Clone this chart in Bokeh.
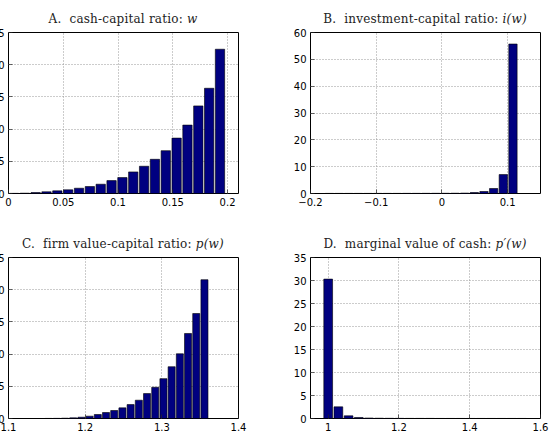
from bokeh.plotting import figure
from bokeh.layouts import row, column
from bokeh.models import FixedTicker, Range1d, Div
from bokeh.embed import file_html
from bokeh.resources import INLINE

# ---- Panel A: cash-capital ratio w (density histogram) ----
a_centers = [0.0050, 0.0149, 0.0248, 0.0347, 0.0446, 0.0545, 0.0644, 0.0743, 0.0842, 0.0941,
             0.1040, 0.1139, 0.1238, 0.1337, 0.1436, 0.1535, 0.1634, 0.1733, 0.1832, 0.1931]
a_density = [0.02, 0.05, 0.15, 0.26, 0.41, 0.57, 0.82, 1.08, 1.44, 2.00,
             2.47, 3.35, 4.23, 5.31, 6.65, 8.60, 10.62, 13.60, 16.34, 22.40]
a_bin = 0.0099
a_xticks = [0, 0.05, 0.1, 0.15, 0.2]
a_xlabels = ["0", "0.05", "0.1", "0.15", "0.2"]
a_yticks = [0, 5, 10, 15, 20, 25]

# ---- Panel B: investment-capital ratio i(w) ----
b_centers = [-0.1712, -0.1565, -0.1418, -0.1271, -0.1124, -0.0977, -0.0830, -0.0683, -0.0536, -0.0389,
             -0.0242, -0.0095, 0.0052, 0.0199, 0.0346, 0.0493, 0.0640, 0.0787, 0.0934, 0.1081]
b_density = [0.03, 0.03, 0.03, 0.03, 0.03, 0.04, 0.04, 0.04, 0.05, 0.05,
             0.06, 0.07, 0.08, 0.10, 0.14, 0.37, 0.74, 1.86, 7.05, 55.70]
b_bin = 0.0147
b_xticks = [-0.2, -0.1, 0, 0.1]
b_xlabels = ["\u22120.2", "\u22120.1", "0", "0.1"]
b_yticks = [0, 10, 20, 30, 40, 50, 60]

# ---- Panel C: firm value-capital ratio p(w) ----
c_centers = [1.1523, 1.1630, 1.1737, 1.1844, 1.1951, 1.2058, 1.2165, 1.2272, 1.2379, 1.2486,
             1.2593, 1.2700, 1.2807, 1.2914, 1.3021, 1.3128, 1.3235, 1.3342, 1.3449, 1.3556]
c_density = [0.01, 0.02, 0.05, 0.10, 0.20, 0.36, 0.62, 0.93, 1.24, 1.65,
             2.16, 2.84, 3.87, 4.85, 6.19, 8.04, 10.05, 13.20, 16.30, 21.55]
c_bin = 0.0107
c_xticks = [1.1, 1.2, 1.3, 1.4]
c_xlabels = ["1.1", "1.2", "1.3", "1.4"]
c_yticks = [0, 5, 10, 15, 20, 25]

# ---- Panel D: marginal value of cash p'(w) ----
d_centers = [1.0000, 1.0288, 1.0576, 1.0864, 1.1152, 1.1440, 1.1728, 1.2016, 1.2304, 1.2592,
             1.2880, 1.3168, 1.3456, 1.3744, 1.4032, 1.4320, 1.4608, 1.4896, 1.5184, 1.5472]
d_density = [30.30, 2.53, 0.58, 0.22, 0.10, 0.06, 0.04, 0.03, 0.02, 0.02,
             0.02, 0.01, 0.01, 0.01, 0.01, 0.01, 0.01, 0.01, 0.01, 0.01]
d_bin = 0.0288
d_xticks = [1, 1.2, 1.4, 1.6]
d_xlabels = ["1", "1.2", "1.4", "1.6"]
d_yticks = [0, 5, 10, 15, 20, 25, 30, 35]

BAR_FILL = "#000080"
TICK_FONT = "DejaVu Sans"
TITLE_FONT = "DejaVu Serif"
FRAME_W, FRAME_H = 230, 161
TITLE_H = 28


def panel(plain, math, xr, yr, xticks, xlabels, yticks, centers, heights, bin_w,
          border_right, border_bottom):
    p = figure(frame_width=FRAME_W, frame_height=FRAME_H,
               x_range=Range1d(*xr), y_range=Range1d(*yr),
               min_border_left=30, min_border_right=border_right,
               min_border_top=4, min_border_bottom=border_bottom,
               output_backend="svg", toolbar_location=None,
               background_fill_color="white", border_fill_color="white")
    p.outline_line_color = "black"
    p.outline_line_width = 1

    p.vbar(x=centers, top=heights, width=bin_w * 0.86, bottom=0,
           fill_color=BAR_FILL, line_color="black", line_width=0.6)

    p.xaxis.ticker = FixedTicker(ticks=xticks)
    p.xaxis.major_label_overrides = dict(zip(xticks, xlabels))
    p.yaxis.ticker = FixedTicker(ticks=yticks)
    p.yaxis.major_label_overrides = {t: str(t) for t in yticks}
    for ax in (p.xaxis[0], p.yaxis[0]):
        ax.axis_line_color = None
        ax.major_tick_in = 4
        ax.major_tick_out = 0
        ax.major_tick_line_color = "#222222"
        ax.major_tick_line_width = 0.7
        ax.minor_tick_line_color = None
        ax.major_label_text_font = TICK_FONT
        ax.major_label_text_font_size = "10px"
        ax.major_label_text_color = "black"
        ax.major_label_standoff = 4

    for g in (p.xgrid, p.ygrid):
        g.grid_line_color = "#999999"
        g.grid_line_dash = "1 2"
        g.grid_line_width = 1

    title = Div(
        text=(f'<div style="width:{FRAME_W}px;padding-top:12px;text-align:center;'
              f'font-family:\'{TITLE_FONT}\';font-size:12px;line-height:14px;'
              f'letter-spacing:0.2px;color:#222;white-space:nowrap">'
              f'{plain}<i>{math}</i></div>'),
        width=FRAME_W, height=TITLE_H, margin=(0, 0, 0, 30),
        styles={"text-align": "center"})
    return column(title, p, spacing=0)


pa = panel("A.&nbsp;&nbsp;cash-capital ratio: ", "w", (0, 0.21), (0, 25),
           a_xticks, a_xlabels, a_yticks, a_centers, a_density, a_bin, 42, 32)
pb = panel("B.&nbsp;&nbsp;investment-capital ratio: ", "i(w)", (-0.2, 0.15), (0, 60),
           b_xticks, b_xlabels, b_yticks, b_centers, b_density, b_bin, 9, 32)
pc = panel("C.&nbsp;&nbsp;firm value-capital ratio: ", "p(w)", (1.1, 1.4), (0, 25),
           c_xticks, c_xlabels, c_yticks, c_centers, c_density, c_bin, 42, 22)
pd = panel("D.&nbsp;&nbsp;marginal value of cash: ", "p\u2032(w)", (0.95, 1.6), (0, 35),
           d_xticks, d_xlabels, d_yticks, d_centers, d_density, d_bin, 9, 22)

# left column is shifted so its y tick labels run past the page edge
pa.margin = (0, 0, 0, -22)
pc.margin = (0, 0, 0, -22)

layout = column(row(pa, pb, spacing=0), row(pc, pd, spacing=0), spacing=0,
                width=549, height=432, styles={"overflow": "hidden"})

open("out.html", "w").write(file_html(layout, INLINE))
